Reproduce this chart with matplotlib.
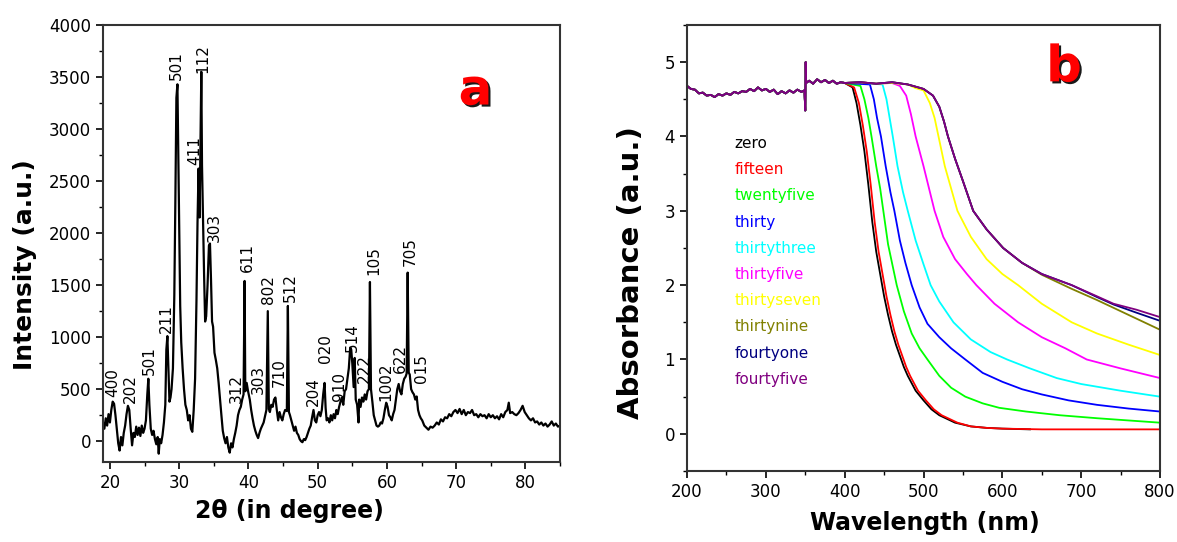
import numpy as np
import matplotlib
matplotlib.use("Agg")
import matplotlib.pyplot as plt
import matplotlib.patheffects as pe
from matplotlib.ticker import MultipleLocator

# ---- (a) XRD pattern ----
two_theta = [
    19.0, 19.2, 19.4, 19.6, 19.8, 20.0, 20.2, 20.4, 20.6, 20.8, 21.0, 21.2, 21.4, 21.6, 21.8,
    22.0, 22.2, 22.4, 22.6, 22.8, 23.0, 23.2, 23.4, 23.6, 23.8, 24.0, 24.2, 24.4, 24.6, 24.8,
    25.0, 25.2, 25.4, 25.55, 25.7, 25.9, 26.1, 26.3, 26.5, 26.7, 26.9, 27.05, 27.2, 27.4, 27.6,
    27.8, 28.0, 28.15, 28.3, 28.45, 28.6, 28.75, 28.9, 29.1, 29.3, 29.45, 29.6, 29.75, 29.9, 30.0,
    30.15, 30.3, 30.5, 30.7, 30.9, 31.1, 31.3, 31.5, 31.7, 31.9, 32.1, 32.3, 32.5, 32.65, 32.8,
    32.95, 33.05, 33.2, 33.3, 33.45, 33.6, 33.75, 33.9, 34.1, 34.3, 34.45, 34.6, 34.75, 34.9, 35.1,
    35.3, 35.5, 35.7, 35.9, 36.1, 36.3, 36.5, 36.7, 36.9, 37.1, 37.3, 37.5, 37.7, 37.9, 38.1,
    38.3, 38.5, 38.7, 38.9, 39.1, 39.3, 39.45, 39.55, 39.75, 39.95, 40.2, 40.4, 40.6, 40.8, 41.0,
    41.2, 41.4, 41.6, 41.8, 42.0, 42.2, 42.4, 42.6, 42.8, 42.95, 43.1, 43.3, 43.5, 43.7, 43.9,
    44.1, 44.3, 44.5, 44.7, 44.9, 45.1, 45.3, 45.55, 45.7, 45.85, 46.0, 46.2, 46.4, 46.6, 46.8,
    47.0, 47.2, 47.4, 47.6, 47.8, 48.0, 48.2, 48.4, 48.6, 48.8, 49.0, 49.2, 49.4, 49.6, 49.8,
    50.0, 50.2, 50.4, 50.6, 50.8, 51.0, 51.15, 51.3, 51.5, 51.7, 51.9, 52.1, 52.3, 52.5, 52.7,
    52.9, 53.1, 53.3, 53.5, 53.7, 53.9, 54.1, 54.3, 54.5, 54.7, 54.85, 55.0, 55.2, 55.35, 55.5,
    55.7, 55.9, 56.0, 56.2, 56.4, 56.6, 56.8, 57.0, 57.2, 57.4, 57.55, 57.7, 57.9, 58.1, 58.3,
    58.5, 58.7, 58.9, 59.1, 59.3, 59.5, 59.7, 59.9, 60.1, 60.3, 60.5, 60.7, 60.9, 61.1, 61.3,
    61.5, 61.7, 61.9, 62.1, 62.3, 62.5, 62.7, 62.85, 63.0, 63.15, 63.3, 63.5, 63.7, 63.9, 64.1,
    64.3, 64.5, 64.7, 64.9, 65.1, 65.4, 65.7, 66.0, 66.3, 66.6, 66.9, 67.2, 67.5, 67.8, 68.1,
    68.4, 68.7, 69.0, 69.3, 69.6, 69.9, 70.2, 70.5, 70.8, 71.1, 71.4, 71.7, 72.0, 72.3, 72.6,
    72.9, 73.2, 73.5, 73.8, 74.1, 74.4, 74.7, 75.0, 75.3, 75.6, 75.9, 76.2, 76.5, 76.8, 77.1,
    77.4, 77.6, 77.8, 78.1, 78.4, 78.7, 79.0, 79.3, 79.6, 79.9, 80.2, 80.5, 80.8, 81.1, 81.4,
    81.7, 82.0, 82.3, 82.6, 82.9, 83.2, 83.5, 83.8, 84.1, 84.4, 84.7, 85.0,
]
intensity = [
    180, 120, 220, 150, 260, 180, 300, 380, 360, 250, 120, -20, -90, 40, -40,
    80, 150, 260, 340, 300, 120, -40, 80, 40, 140, 60, 130, 50, 150, 80,
    120, 200, 450, 600, 350, 120, 60, 100, 20, -30, 40, -120, 20, -20, 60,
    180, 350, 880, 1010, 700, 380, 420, 500, 700, 1400, 2300, 3300, 3430, 2600, 2100,
    1300, 950, 700, 500, 350, 300, 200, 250, 120, 90, 300, 600, 1350, 2100, 2620,
    2150, 2700, 3550, 2650, 2100, 1600, 1150, 1200, 1500, 1880, 1900, 1550, 1150, 1100, 850,
    780, 700, 560, 400, 250, 100, 30, -20, 40, -60, -110, -20, -60, 20, 80,
    150, 250, 300, 330, 400, 450, 1540, 480, 560, 480, 400, 300, 220, 150, 100,
    60, 30, 80, 120, 150, 180, 240, 300, 1250, 310, 280, 350, 330, 400, 420,
    300, 200, 280, 230, 200, 260, 300, 290, 1300, 280, 250, 200, 150, 100, 140,
    80, 60, 20, 0, -10, 20, 10, 40, 80, 120, 150, 230, 300, 200, 180,
    250, 280, 240, 300, 450, 560, 320, 200, 220, 180, 250, 200, 260, 220, 300,
    260, 330, 380, 420, 350, 480, 500, 600, 700, 900, 880, 750, 520, 800, 400,
    350, 180, 400, 330, 420, 380, 450, 400, 480, 500, 1530, 500, 380, 250, 200,
    150, 140, 150, 180, 170, 220, 300, 370, 330, 250, 230, 200, 260, 300, 400,
    500, 550, 480, 450, 550, 600, 620, 650, 1620, 660, 640, 500, 470, 450, 400,
    430, 300, 250, 220, 200, 150, 130, 110, 140, 130, 150, 180, 160, 210, 190,
    230, 220, 260, 240, 280, 300, 270, 310, 260, 300, 250, 280, 270, 300, 250,
    260, 230, 260, 240, 250, 220, 260, 230, 250, 220, 240, 210, 260, 230, 280,
    300, 370, 270, 280, 260, 250, 270, 300, 340, 280, 250, 220, 200, 220, 180,
    190, 160, 180, 150, 170, 140, 160, 190, 150, 170, 140, 150,
]

peak_labels = ["400", "202", "501", "211", "501", "411", "112", "303", "312", "611",
               "303", "802", "710", "512", "204", "020", "910", "514", "222", "105",
               "1002", "622", "705", "015"]
label_x = [20.4, 22.9, 25.7, 28.1, 29.6, 32.2, 33.4, 35.1, 38.3, 39.8,
           41.5, 42.9, 44.5, 46.0, 49.4, 51.1, 53.2, 55.0, 56.7, 58.1,
           59.9, 62.0, 63.4, 65.0]
label_y = [420, 370, 640, 1040, 3470, 2650, 3540, 1915, 370, 1630,
           455, 1320, 520, 1335, 340, 755, 390, 855, 555, 1600,
           390, 655, 1680, 555]

# ---- (b) UV-vis absorbance ----
# common flat region below the absorption edge
plateau_nm = [200, 205, 210, 215, 220, 225, 230, 235, 240, 245, 250, 255, 260, 265, 270,
              275, 280, 285, 290, 295, 300, 305, 310, 315, 320, 325, 330, 335, 340, 345,
              349, 350, 350.5, 351, 355, 360, 365, 370, 375, 380, 385, 390, 395, 400]
plateau_abs = [4.68, 4.64, 4.63, 4.58, 4.59, 4.55, 4.56, 4.53, 4.57, 4.55, 4.58, 4.56, 4.60, 4.58, 4.61,
               4.60, 4.64, 4.61, 4.66, 4.62, 4.64, 4.60, 4.63, 4.57, 4.61, 4.58, 4.62, 4.59, 4.63, 4.60,
               4.62, 4.35, 5.00, 4.72, 4.75, 4.71, 4.77, 4.73, 4.76, 4.72, 4.75, 4.71, 4.73, 4.72]

samples = ["zero", "fifteen", "twentyfive", "thirty", "thirtythree", "thirtyfive",
           "thirtyseven", "thirtynine", "fourtyone", "fourtyfive"]
colors = ["black", "red", "#00ff00", "blue", "cyan", "magenta",
          "yellow", "#808000", "#000080", "#800080"]

zero_nm = [410, 415, 420, 425, 430, 435, 440, 445, 450, 455, 460, 465, 470, 475, 480,
           490, 500, 510, 520, 530, 540, 560, 580, 600, 635]
zero_abs = [4.66, 4.45, 4.15, 3.80, 3.35, 2.85, 2.45, 2.15, 1.85, 1.60, 1.38, 1.20, 1.05, 0.90, 0.78,
            0.58, 0.45, 0.33, 0.25, 0.20, 0.15, 0.10, 0.08, 0.07, 0.06]
fifteen_nm = [412, 418, 423, 428, 433, 438, 443, 448, 453, 458, 463, 468, 473, 478, 483,
              493, 503, 513, 523, 533, 543, 560, 580, 600, 650, 700, 800]
fifteen_abs = [4.66, 4.45, 4.15, 3.80, 3.35, 2.85, 2.45, 2.15, 1.85, 1.60, 1.38, 1.20, 1.05, 0.90, 0.78,
               0.58, 0.45, 0.33, 0.25, 0.20, 0.15, 0.10, 0.08, 0.07, 0.06, 0.06, 0.06]
twentyfive_nm = [420, 425, 430, 434, 440, 445, 449, 455, 460, 466, 475, 485, 495, 505, 520,
                 535, 553, 575, 596, 630, 673, 720, 760, 800]
twentyfive_abs = [4.68, 4.50, 4.25, 4.00, 3.60, 3.30, 3.00, 2.55, 2.30, 2.00, 1.65, 1.35, 1.15, 1.00, 0.78,
                  0.62, 0.50, 0.41, 0.35, 0.30, 0.25, 0.21, 0.18, 0.15]
thirty_nm = [415, 432, 437, 441, 446, 452, 458, 463, 470, 477, 485, 495, 505, 520, 535,
             553, 575, 600, 625, 650, 684, 720, 760, 800]
thirty_abs = [4.71, 4.70, 4.50, 4.25, 4.00, 3.60, 3.25, 3.00, 2.60, 2.30, 2.00, 1.70, 1.48, 1.30, 1.15,
              1.00, 0.82, 0.70, 0.60, 0.53, 0.45, 0.39, 0.34, 0.30]
thirtythree_nm = [420, 435, 448, 453, 457, 461, 467, 474, 480, 490, 500, 509, 520, 538, 560,
                  585, 606, 635, 669, 700, 750, 800]
thirtythree_abs = [4.73, 4.71, 4.70, 4.50, 4.25, 4.00, 3.60, 3.25, 3.00, 2.60, 2.28, 2.00, 1.78, 1.50, 1.27,
                   1.10, 1.00, 0.88, 0.75, 0.67, 0.58, 0.50]
thirtyfive_nm = [420, 440, 460, 470, 478, 484, 490, 500, 507, 514, 525, 540, 555, 567, 590,
                 620, 650, 680, 707, 750, 800]
thirtyfive_abs = [4.73, 4.71, 4.72, 4.68, 4.55, 4.30, 4.00, 3.60, 3.30, 3.00, 2.65, 2.35, 2.15, 2.00, 1.75,
                  1.50, 1.30, 1.15, 1.00, 0.88, 0.75]
thirtyseven_nm = [420, 440, 460, 480, 490, 500, 508, 514, 519, 527, 535, 543, 560, 580, 600,
                  620, 650, 688, 720, 760, 800]
thirtyseven_abs = [4.73, 4.71, 4.72, 4.70, 4.65, 4.62, 4.45, 4.25, 4.00, 3.60, 3.30, 3.00, 2.65, 2.35, 2.15,
                   2.00, 1.75, 1.50, 1.35, 1.20, 1.06]
thirtynine_nm = [420, 440, 460, 480, 500, 512, 520, 526, 531, 540, 550, 563, 580, 601, 625,
                 650, 688, 720, 760, 800]
thirtynine_abs = [4.73, 4.71, 4.73, 4.70, 4.64, 4.55, 4.40, 4.20, 4.00, 3.70, 3.40, 3.00, 2.75, 2.50, 2.30,
                  2.14, 1.95, 1.80, 1.60, 1.40]
fourtyone_nm = [420, 440, 460, 480, 500, 512, 520, 526, 531, 540, 550, 563, 580, 601, 625,
                650, 688, 720, 741, 770, 800]
fourtyone_abs = [4.73, 4.71, 4.73, 4.70, 4.64, 4.55, 4.40, 4.20, 4.00, 3.70, 3.40, 3.00, 2.75, 2.50, 2.30,
                 2.15, 2.00, 1.84, 1.74, 1.63, 1.52]
fourtyfive_nm = [420, 440, 460, 480, 500, 512, 520, 526, 531, 540, 550, 563, 580, 601, 625,
                 650, 688, 720, 741, 770, 800]
fourtyfive_abs = [4.73, 4.71, 4.73, 4.70, 4.64, 4.55, 4.40, 4.20, 4.00, 3.70, 3.40, 3.00, 2.75, 2.50, 2.30,
                  2.15, 2.00, 1.85, 1.75, 1.67, 1.57]

edge_nm = [zero_nm, fifteen_nm, twentyfive_nm, thirty_nm, thirtythree_nm, thirtyfive_nm,
           thirtyseven_nm, thirtynine_nm, fourtyone_nm, fourtyfive_nm]
edge_abs = [zero_abs, fifteen_abs, twentyfive_abs, thirty_abs, thirtythree_abs, thirtyfive_abs,
            thirtyseven_abs, thirtynine_abs, fourtyone_abs, fourtyfive_abs]

fig = plt.figure(figsize=(11.77, 5.42), dpi=100)
ax1 = fig.add_axes([0.0875, 0.1476, 0.3883, 0.8063])
ax2 = fig.add_axes([0.5837, 0.131, 0.4019, 0.8229])

shadow = [pe.withSimplePatchShadow(offset=(1.5, -1.5), shadow_rgbFace="black", alpha=0.9)]

# panel a
ax1.plot(two_theta, intensity, color="black", lw=1.6)
for lab, x, y in zip(peak_labels, label_x, label_y):
    ax1.text(x, y, lab, rotation=90, ha="center", va="bottom", fontsize=11)
ax1.set_xlim(19, 85)
ax1.set_ylim(-200, 4000)
ax1.xaxis.set_major_locator(MultipleLocator(10))
ax1.xaxis.set_minor_locator(MultipleLocator(5))
ax1.yaxis.set_major_locator(MultipleLocator(500))
ax1.yaxis.set_minor_locator(MultipleLocator(250))
ax1.set_xlabel("2θ (in degree)", fontsize=17, fontweight="bold")
ax1.set_ylabel("Intensity (a.u.)", fontsize=18, fontweight="bold")
ax1.xaxis.set_label_coords(0.409, -0.085)
ax1.yaxis.set_label_coords(-0.144, 0.451)
ax1.text(0.815, 0.85, "a", transform=ax1.transAxes, ha="center", va="center",
         fontsize=36, fontweight="bold", color="red", path_effects=shadow)

# panel b
for name, col, xs, ys in zip(samples, colors, edge_nm, edge_abs):
    x = np.concatenate([plateau_nm, xs])
    y = np.concatenate([plateau_abs, ys])
    ax2.plot(x, y, color=col, lw=1.3)
for i, (name, col) in enumerate(zip(samples, colors)):
    ax2.text(0.101, 0.734 - i * 0.0587, name, color=col, transform=ax2.transAxes,
             ha="left", va="center", fontsize=11)
ax2.set_xlim(200, 800)
ax2.set_ylim(-0.5, 5.5)
ax2.xaxis.set_major_locator(MultipleLocator(100))
ax2.xaxis.set_minor_locator(MultipleLocator(50))
ax2.yaxis.set_major_locator(MultipleLocator(1))
ax2.yaxis.set_minor_locator(MultipleLocator(0.5))
ax2.set_xlabel("Wavelength (nm)", fontsize=17, fontweight="bold")
ax2.set_ylabel("Absorbance (a.u.)", fontsize=21, fontweight="bold")
ax2.xaxis.set_label_coords(0.503, -0.09)
ax2.yaxis.set_label_coords(-0.089, 0.446)
ax2.text(0.797, 0.905, "b", transform=ax2.transAxes, ha="center", va="center",
         fontsize=36, fontweight="bold", color="red", path_effects=shadow)

for ax in (ax1, ax2):
    for s in ax.spines.values():
        s.set_linewidth(1.5)
        s.set_color("#333333")
    ax.tick_params(which="major", direction="out", length=5, width=1.2, labelsize=12)
    ax.tick_params(which="minor", direction="out", length=3, width=1.0)

fig.savefig("out.png", dpi=100)
